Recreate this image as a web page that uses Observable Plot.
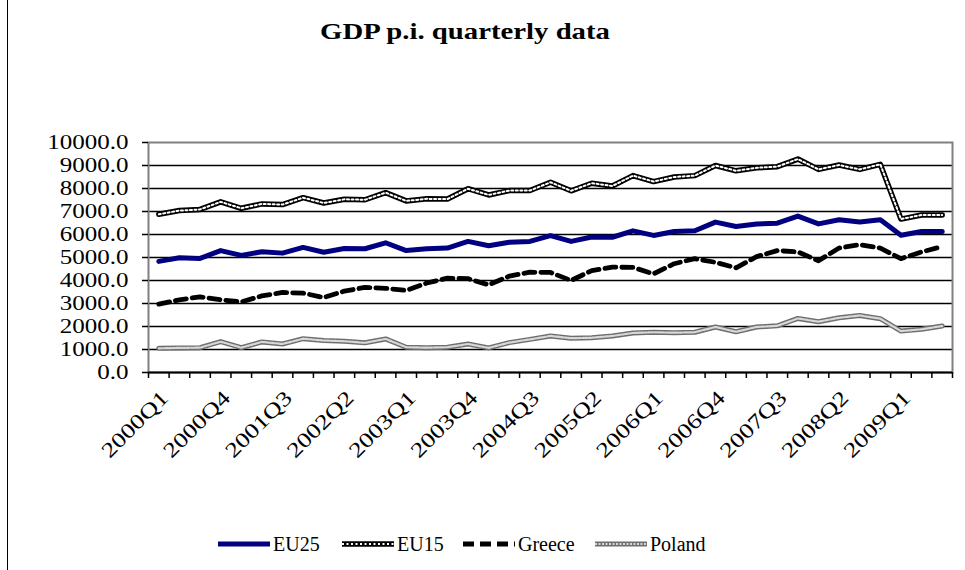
<!DOCTYPE html>
<html>
<head>
<meta charset="utf-8">
<script src="https://cdn.jsdelivr.net/npm/d3@7"></script>
<script src="https://cdn.jsdelivr.net/npm/@observablehq/plot@0.6"></script>
<style>
  html, body { margin: 0; padding: 0; background: #fff; }
  #wrap { position: relative; width: 965px; height: 570px; overflow: hidden; background: #fff; font-family: "Liberation Serif", "Times New Roman", serif; }
  #chart { position: absolute; left: 0; top: 0; }
  #title { position: absolute; left: 0; top: 20px; width: 930px; text-align: center; font-size: 23px; line-height: 23px; font-weight: bold; transform: scaleX(1.25); transform-origin: 465px 0; color: #000; }
  #border { position: absolute; left: 7px; top: 0; width: 1px; height: 570px; background: #000; }
  .leg { position: absolute; top: 535px; height: 18px; display: flex; align-items: center; font-size: 20px; line-height: 18px; color: #000; }
  .leg svg { margin-right: 3px; }
</style>
</head>
<body>
<div id="wrap">
  <div id="border"></div>
  <div id="title">GDP p.i. quarterly data</div>
  <div id="chart"></div>
</div>
<script>
const quarters = [
  "2000Q1","2000Q2","2000Q3","2000Q4","2001Q1","2001Q2","2001Q3","2001Q4",
  "2002Q1","2002Q2","2002Q3","2002Q4","2003Q1","2003Q2","2003Q3","2003Q4",
  "2004Q1","2004Q2","2004Q3","2004Q4","2005Q1","2005Q2","2005Q3","2005Q4",
  "2006Q1","2006Q2","2006Q3","2006Q4","2007Q1","2007Q2","2007Q3","2007Q4",
  "2008Q1","2008Q2","2008Q3","2008Q4","2009Q1","2009Q2","2009Q3"
];
const eu25 = [4830,4990,4960,5300,5090,5250,5190,5440, 5230,5390,5380,5640,5300,5380,5410,5700,
  5510,5660,5700,5950,5700,5890,5880, 6160,5960,6130,6160,6540,6350,6460,6490,6800,6460,6640,6540,6640,5970,6130,6130];
const eu15 = [6880,7040,7090,7420,7140,7330,7300,7600, 7370,7530,7510,7820,7460,7550,7540,7990,
  7720,7910,7910,8270,7900,8230,8110, 8560,8300,8500,8560,9000,8770,8900,8950,9280,8830,9020,8830,9050,6670,6850,6850];
const greece = [2970,3160,3290,3160,3070,3330,3480,3450, 3260,3540,3700,3660,3570,3890,4100,4080,
  3810,4190,4360,4350,4000,4430,4580, 4570,4290,4730,4950,4790,4550,5040,5300,5240,4860,5410,5560,5410,4950,5240,5480];
const poland = [1050,1070,1080,1340,1080,1330,1240,1470, 1390,1360,1290,1460,1100,1080,1100,1240,
  1070,1300,1440,1590,1490,1510,1590, 1720,1750,1730,1750,1980,1770,1980,2030,2350,2210,2380,2480,2340,1800,1880,2020];
const yTicks = [0,1000,2000,3000,4000,5000,6000,7000,8000,9000,10000];
const labelQuarters = ["2000Q1","2000Q4","2001Q3","2002Q2","2003Q1","2003Q4","2004Q3","2005Q2","2006Q1","2006Q4","2007Q3","2008Q2","2009Q1"];
const seriesNames = ["EU25","EU15","Greece","Poland"];

const rows = (arr) => arr.map((v, i) => ({pos: i + 0.5, q: quarters[i], v}));
const boundaries = d3.range(0, quarters.length + 1);
const labelPos = labelQuarters.map(q => quarters.indexOf(q) + 0.5);

const polandBase = {stroke: "#6e6e6e", strokeWidth: 5};
const polandTop = {stroke: "#d8d8d8", strokeWidth: 2.2, strokeDasharray: "2,1.5"};
const eu15Base = {stroke: "black", strokeWidth: 5.5};
const eu15Top = {stroke: "white", strokeWidth: 2, strokeDasharray: "2,2.5"};

const chart = Plot.plot({
  width: 965,
  height: 570,
  marginTop: 142,
  marginBottom: 198,
  marginLeft: 148,
  marginRight: 13,
  style: {fontFamily: "Liberation Serif, Times New Roman, serif", fontSize: "20px", color: "black", background: "transparent", overflow: "visible"},
  x: {type: "linear", domain: [0, quarters.length], axis: null, label: null},
  y: {domain: [0, 10000], axis: null, label: null},
  marks: [
    Plot.ruleY(yTicks.filter(d => d > 0 && d < 10000), {stroke: "black", strokeWidth: 1.3}),
    Plot.frame({stroke: "#808080", strokeWidth: 2}),
    Plot.ruleY([0], {stroke: "black", strokeWidth: 2}),
    Plot.axisY({ticks: yTicks, tickFormat: d => d.toFixed(1), tickSize: 6, tickPadding: 14, label: null, stroke: "black", strokeWidth: 1.5}),
    Plot.axisX({ticks: boundaries, tickFormat: () => "", tickSize: 6, label: null, stroke: "black", strokeWidth: 1.5}),
    Plot.axisX({ticks: labelPos, tickFormat: d => quarters[Math.round(d - 0.5)], tickSize: 0, tickPadding: 22, tickRotate: -45, label: null, dx: 6, fontSize: 21}),
    // Poland
    Plot.line(rows(poland), {x: "pos", y: "v", ...polandBase}),
    Plot.line(rows(poland), {x: "pos", y: "v", ...polandTop}),
    // Greece
    Plot.line(rows(greece), {x: "pos", y: "v", stroke: "black", strokeWidth: 4.8, strokeDasharray: "11,6"}),
    // EU25
    Plot.line(rows(eu25), {x: "pos", y: "v", stroke: "#000080", strokeWidth: 5}),
    // EU15
    Plot.line(rows(eu15), {x: "pos", y: "v", ...eu15Base}),
    Plot.line(rows(eu15), {x: "pos", y: "v", ...eu15Top})
  ]
});
document.getElementById("chart").appendChild(chart);

// horizontally stretch axis texts like the reference
chart.querySelectorAll('g[aria-label="y-axis tick label"] text, g[aria-label="x-axis tick label"] text').forEach(t => {
  const w = t.getComputedTextLength();
  if (w > 0) {
    t.setAttribute("textLength", (w * 1.25).toFixed(1));
    t.setAttribute("lengthAdjust", "spacingAndGlyphs");
  }
});

// legend
const addLine = (s, o) => {
  const l = s.append("line").attr("stroke", o.stroke).attr("stroke-width", o.strokeWidth);
  if (o.strokeDasharray) l.attr("stroke-dasharray", o.strokeDasharray);
};
const legendDefs = [
  {name: seriesNames[0], left: 218, styles: [{stroke: "#000080", strokeWidth: 5}]},
  {name: seriesNames[1], left: 342, styles: [eu15Base, eu15Top]},
  {name: seriesNames[2], left: 463, styles: [{stroke: "black", strokeWidth: 4.8, strokeDasharray: "11,6"}]},
  {name: seriesNames[3], left: 595, styles: [polandBase, polandTop]}
];
const wrap = d3.select("#wrap");
legendDefs.forEach(d => {
  const div = wrap.append("div").attr("class", "leg").style("left", d.left + "px");
  const svg = div.append("svg").attr("width", 52).attr("height", 10);
  const g = svg.append("g");
  d.styles.forEach(o => addLine(g, o));
  g.selectAll("line").attr("x1", 0).attr("x2", 52).attr("y1", 5).attr("y2", 5);
  div.append("span").text(d.name);
});
</script>
</body>
</html>
